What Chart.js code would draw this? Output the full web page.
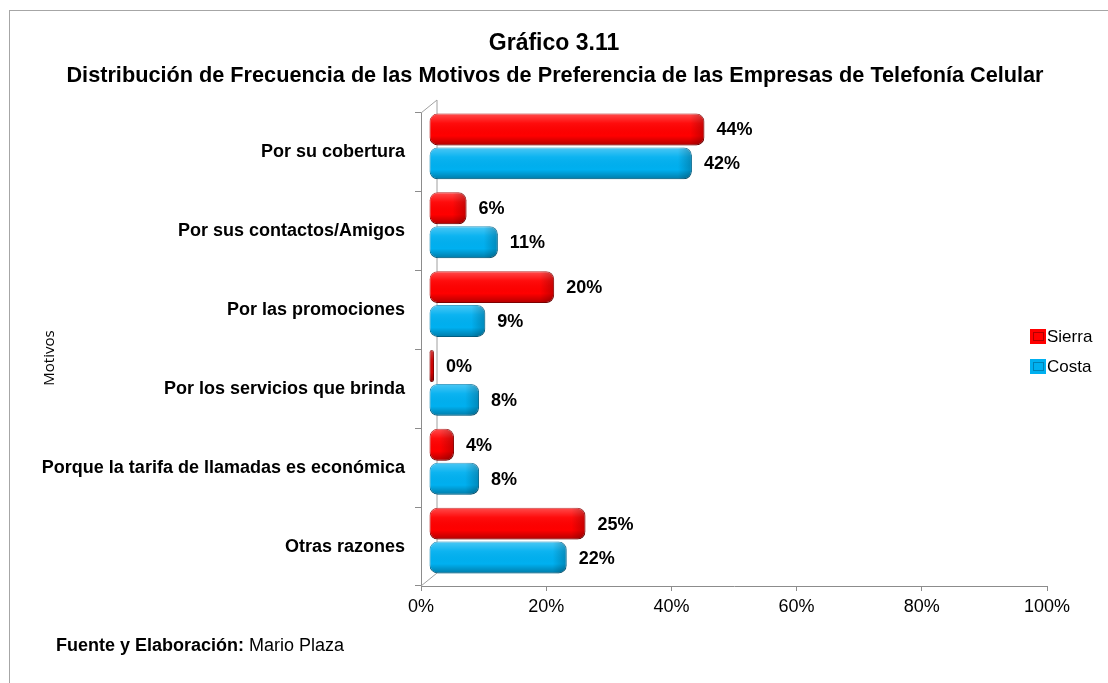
<!DOCTYPE html>
<html>
<head>
<meta charset="utf-8">
<script src="https://cdn.jsdelivr.net/npm/chart.js@4.4.1/dist/chart.umd.min.js"></script>
<style>
    html, body { margin: 0; padding: 0; background: #fff; }
    #wrap { position: relative; width: 1108px; height: 683px; overflow: hidden; }
    #frame { position: absolute; left: 9px; top: 10px; width: 1200px; height: 800px; border: 1px solid #a6a6a6; }
    #barChart { position: absolute; left: 0; top: 0; }
</style>
</head>
<body>
<div id="wrap">
    <div id="frame"></div>
    <canvas id="barChart" width="1108" height="683"></canvas>
</div>
<script>
const motivos = [
    'Por su cobertura',
    'Por sus contactos/Amigos',
    'Por las promociones',
    'Por los servicios que brinda',
    'Porque la tarifa de llamadas es económica',
    'Otras razones'
];
const sierra = [44, 6, 20, 0, 4, 25];
const costa = [42, 11, 9, 8, 8, 22];
const xTicks = [0, 20, 40, 60, 80, 100];

const titulo = 'Gráfico 3.11';
const subtitulo = 'Distribución de Frecuencia de las Motivos de Preferencia de las Empresas de Telefonía Celular';

const FONT = "'Liberation Sans', Arial, sans-serif";
const AXIS_GREY = '#8c8c8c';

document.addEventListener('DOMContentLoaded', function () {

    // --- back wall of the 3D plot ---
    const wall3d = {
        id: 'wall3d',
        beforeDatasetsDraw(chart) {
            const { ctx, chartArea: a } = chart;
            const dx = 16, dy = -13;
            ctx.save();
            ctx.strokeStyle = '#a0a0a0';
            ctx.lineWidth = 1;
            ctx.beginPath();
            ctx.moveTo(a.left, a.top);
            ctx.lineTo(a.left + dx, a.top + dy);
            ctx.lineTo(a.left + dx, a.bottom + dy);
            ctx.lineTo(a.left, a.bottom);
            ctx.stroke();
            ctx.restore();
        }
    };

    // --- bars pushed half way into the depth, with shading and value labels ---
    const bars3d = {
        id: 'bars3d',
        beforeDatasetsDraw(chart) {
            chart.ctx.save();
            chart.ctx.translate(8, -6);
        },
        afterDatasetsDraw(chart) {
            const ctx = chart.ctx;
            chart.data.datasets.forEach(function (ds, di) {
                const meta = chart.getDatasetMeta(di);
                meta.data.forEach(function (el, i) {
                    const p = el.getProps(['x', 'y', 'base', 'height'], true);
                    const left = Math.min(p.base, p.x);
                    const right = Math.max(p.base, p.x);
                    const top = p.y - p.height / 2;
                    const h = p.height;
                    const w = right - left;
                    if (w > 0) {
                        ctx.save();
                        ctx.beginPath();
                        ctx.roundRect(left, top, w, h, Math.min(8, w / 2));
                        ctx.clip();
                        const g = ctx.createLinearGradient(0, top, 0, top + h);
                        g.addColorStop(0, 'rgba(255,255,255,0.30)');
                        g.addColorStop(0.3, 'rgba(255,255,255,0.05)');
                        g.addColorStop(0.7, 'rgba(0,0,0,0)');
                        g.addColorStop(1, 'rgba(0,0,0,0.30)');
                        ctx.fillStyle = g;
                        ctx.fillRect(left, top, w, h);
                        const gx = ctx.createLinearGradient(right - 14, 0, right, 0);
                        gx.addColorStop(0, 'rgba(0,0,0,0)');
                        gx.addColorStop(1, 'rgba(0,0,0,0.22)');
                        ctx.fillStyle = gx;
                        ctx.fillRect(right - 14, top, 14, h);
                        ctx.restore();
                    }
                    ctx.save();
                    ctx.fillStyle = '#000';
                    ctx.font = 'bold 18px ' + FONT;
                    ctx.textAlign = 'left';
                    ctx.textBaseline = 'middle';
                    ctx.fillText(ds.data[i] + '%', right + 12, p.y + 1);
                    ctx.restore();
                });
            });
            ctx.restore();
        }
    };

    // --- titles, legend, axis title and source note ---
    const extras = {
        id: 'extras',
        afterDraw(chart) {
            const ctx = chart.ctx;
            ctx.save();

            ctx.fillStyle = '#000';
            ctx.textAlign = 'center';
            ctx.textBaseline = 'middle';
            ctx.font = 'bold 23px ' + FONT;
            ctx.fillText(titulo, 554, 44);
            ctx.font = 'bold 21.7px ' + FONT;
            ctx.fillText(subtitulo, 555, 76);

            chart.data.datasets.forEach(function (ds, i) {
                const y = 337 + i * 30;
                ctx.fillStyle = ds.backgroundColor;
                ctx.fillRect(1030, y - 8, 16, 15);
                ctx.strokeStyle = ds.borderColor;
                ctx.lineWidth = 1;
                ctx.strokeRect(1033.5, y - 4.5, 10, 8);
                ctx.fillStyle = '#000';
                ctx.font = '17px ' + FONT;
                ctx.textAlign = 'left';
                ctx.textBaseline = 'middle';
                ctx.fillText(ds.label, 1047, y);
            });

            ctx.translate(50, 358);
            ctx.rotate(-Math.PI / 2);
            ctx.font = "15px 'Open Sans', 'Noto Sans', sans-serif";
            ctx.textAlign = 'center';
            ctx.textBaseline = 'middle';
            ctx.fillText('Motivos', 0, 0);
            ctx.setTransform(1, 0, 0, 1, 0, 0);

            ctx.textAlign = 'left';
            ctx.textBaseline = 'middle';
            ctx.font = 'bold 18px ' + FONT;
            const lead = 'Fuente y Elaboración: ';
            ctx.fillText(lead, 56, 646);
            const lw = ctx.measureText(lead).width;
            ctx.font = '18px ' + FONT;
            ctx.fillText('Mario Plaza', 56 + lw, 646);
            ctx.restore();
        }
    };

    const ctxBar = document.getElementById('barChart');
    new Chart(ctxBar, {
        type: 'bar',
        data: {
            labels: motivos,
            datasets: [{
                label: 'Sierra',
                data: sierra,
                backgroundColor: '#FF0000',
                borderColor: '#B00000',
                borderWidth: 1,
                borderRadius: 8,
                borderSkipped: false,
                minBarLength: 5,
                categoryPercentage: 0.86,
                barPercentage: 0.94
            }, {
                label: 'Costa',
                data: costa,
                backgroundColor: '#00B0F0',
                borderColor: '#0082B4',
                borderWidth: 1,
                borderRadius: 8,
                borderSkipped: false,
                minBarLength: 5,
                categoryPercentage: 0.86,
                barPercentage: 0.94
            }]
        },
        options: {
            indexAxis: 'y',
            responsive: false,
            animation: false,
            layout: { padding: { top: 113, right: 61, bottom: 0, left: 0 } },
            plugins: {
                legend: { display: false },
                tooltip: { enabled: false }
            },
            scales: {
                x: {
                    type: 'linear',
                    min: 0,
                    max: 100,
                    afterBuildTicks: s => { s.ticks = xTicks.map(v => ({ value: v })); },
                    afterFit: s => { s.height = 97; },
                    grid: { drawOnChartArea: false, tickLength: 5, color: AXIS_GREY },
                    border: { display: true, color: AXIS_GREY },
                    ticks: {
                        callback: v => v + '%',
                        color: '#000',
                        padding: 5,
                        font: { family: FONT, size: 18 }
                    }
                },
                y: {
                    afterFit: s => { s.width = 421; },
                    grid: { drawOnChartArea: false, offset: true, tickLength: 6, color: AXIS_GREY },
                    border: { display: true, color: AXIS_GREY },
                    ticks: {
                        color: '#000',
                        padding: 10,
                        font: { family: FONT, size: 18, weight: 'bold' }
                    }
                }
            }
        },
        plugins: [wall3d, bars3d, extras]
    });
});
</script>
</body>
</html>
